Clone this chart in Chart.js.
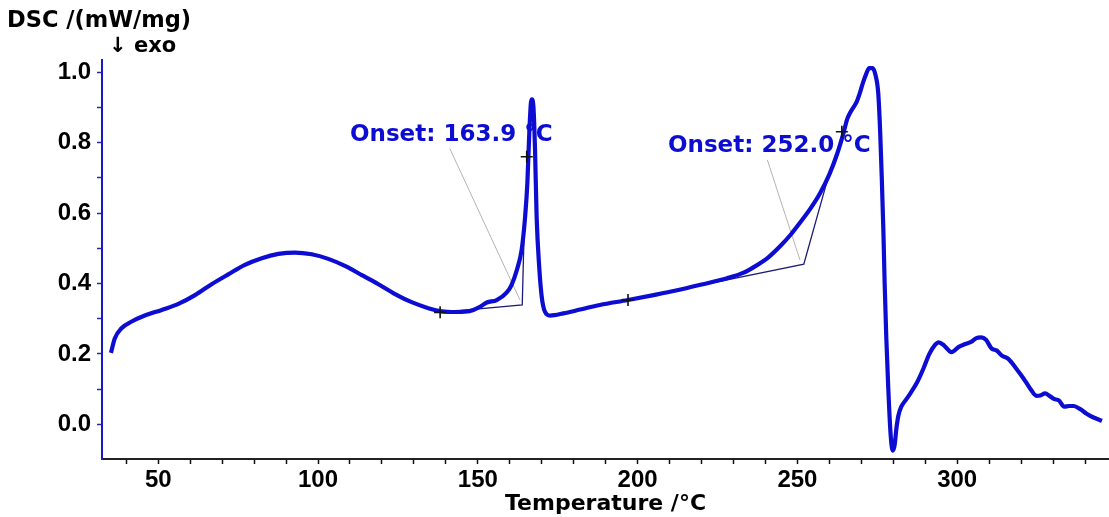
<!DOCTYPE html>
<html>
<head>
<meta charset="utf-8">
<script src="https://cdn.jsdelivr.net/npm/chart.js@4"></script>
<style>
    html, body { margin: 0; padding: 0; background: #fff; }
    #wrap { width: 1109px; height: 517px; }
</style>
</head>
<body>
<div id="wrap"><canvas id="dscChart" width="1109" height="517"></canvas></div>
<script>
// DSC trace, temperature in °C, signal in mW/mg
const temperature = [
    35.2, 36.4, 38.5, 41.7, 45.8, 51.1, 56.3, 61.5, 66.7, 71.9, 77.1, 82.4, 87.6, 92.8, 98.0,
    103.2, 108.4, 113.7, 118.9, 124.1, 129.3, 134.5, 138.7, 142.9, 146.0, 148.6, 150.7, 152.8,
    155.9, 159.0, 160.5, 162.2, 163.7, 164.8, 165.5, 166.1, 166.6, 166.9, 167.4, 167.9, 168.4,
    169.2, 170.0, 171.0, 172.6, 176.8, 182.0, 188.2, 197.0, 205.0, 212.0, 220.0, 228.0, 233.0,
    237.0, 241.0, 244.5, 248.0, 251.0, 254.0, 257.0, 260.0, 262.5, 264.5, 265.5, 266.5, 267.5,
    268.5, 269.5, 270.5, 271.5, 272.5, 273.5, 274.5, 275.3, 275.9, 276.4, 276.9, 277.3, 277.8,
    278.4, 279.1, 279.8, 280.4, 281.0, 281.6, 282.5, 284.0, 285.5, 287.5, 289.5, 291.3, 293.0,
    294.2, 296.0, 298.2, 300.5, 302.5, 304.5, 306.0, 307.5, 309.0, 310.8, 312.3, 314.0, 316.0,
    318.5, 320.7, 322.8, 324.8, 326.0, 327.5, 329.0, 330.3, 331.8, 333.5, 335.0, 336.5, 338.5,
    340.5, 342.5, 345.3
];
const dscSignal = [
    0.203, 0.244, 0.273, 0.292, 0.309, 0.325, 0.342, 0.367, 0.398, 0.426, 0.453, 0.472, 0.484, 0.488, 0.483,
    0.470, 0.450, 0.424, 0.398, 0.370, 0.347, 0.330, 0.321, 0.319, 0.320, 0.325, 0.334, 0.346,
    0.353, 0.374, 0.395, 0.438, 0.495, 0.590, 0.685, 0.827, 0.912, 0.923, 0.902, 0.780, 0.590,
    0.448, 0.362, 0.320, 0.309, 0.315, 0.326, 0.339, 0.353, 0.367, 0.380, 0.397, 0.415, 0.430,
    0.450, 0.475, 0.505, 0.540, 0.575, 0.612, 0.655, 0.710, 0.770, 0.830, 0.865, 0.885, 0.900,
    0.915, 0.940, 0.970, 0.995, 1.012, 1.012, 0.990, 0.940, 0.830, 0.700, 0.550, 0.400, 0.250,
    0.110, -0.020, -0.075, -0.060, -0.010, 0.025, 0.050, 0.070, 0.090, 0.120, 0.160, 0.200, 0.225,
    0.233, 0.223, 0.205, 0.220, 0.228, 0.235, 0.245, 0.247, 0.240, 0.215, 0.210, 0.195, 0.186,
    0.158, 0.131, 0.102, 0.081, 0.082, 0.088, 0.080, 0.072, 0.068, 0.050, 0.052, 0.052, 0.043,
    0.030, 0.020, 0.010
];

// onset evaluation: extrapolated onset temperatures and construction points
const onsetTemps = [163.9, 252.0];
const onsetBaseY = [0.339, 0.455];
const baseStartT = [138.2, 197.0];
const baseStartY = [0.318, 0.353];
const tangentEndT = [164.7, 260.5];
const tangentEndY = [0.62, 0.73];
const crossT = [138.2, 165.3, 197.0, 263.9];
const crossY = [0.318, 0.760, 0.353, 0.831];

// axis ticks
const xTicks = [40, 50, 60, 70, 80, 90, 100, 110, 120, 130, 140, 150, 160, 170, 180, 190, 200,
    210, 220, 230, 240, 250, 260, 270, 280, 290, 300, 310, 320, 330, 340];
const xLabelled = [50, 100, 150, 200, 250, 300];
const yTicks = [0.0, 0.1, 0.2, 0.3, 0.4, 0.5, 0.6, 0.7, 0.8, 0.9, 1.0];
const yLabelled = ['0.0', '0.2', '0.4', '0.6', '0.8', '1.0'];

const BLUE = '#0c0cd2';
const TICK_FONT = { family: '"Liberation Sans", Arial, sans-serif', size: 24, weight: 'bold' };
const TEXT_FONT = '"DejaVu Sans", Verdana, sans-serif';

function toPoints(xs, ys) {
    return xs.map(function (x, i) { return { x: x, y: ys[i] }; });
}

function constructionLine(i) {
    return [
        { x: baseStartT[i], y: baseStartY[i] },
        { x: onsetTemps[i], y: onsetBaseY[i] },
        { x: tangentEndT[i], y: tangentEndY[i] }
    ];
}

// onset labels with a thin leader down to the onset corner
const onsetLabels = [
    { t: 110.0, v: 0.822, fromT: 141.2, fromV: 0.784, toT: 163.2, toV: 0.353 },
    { t: 209.5, v: 0.790, fromT: 240.6, fromV: 0.751, toT: 250.8, toV: 0.467 }
];

const annotations = {
    id: 'annotations',
    beforeDatasetsDraw: function (chart) {
        const ctx = chart.ctx, xs = chart.scales.x, ys = chart.scales.y;
        ctx.save();
        ctx.strokeStyle = '#b4b4b4';
        ctx.lineWidth = 1;
        onsetLabels.forEach(function (l) {
            ctx.beginPath();
            ctx.moveTo(xs.getPixelForValue(l.fromT), ys.getPixelForValue(l.fromV));
            ctx.lineTo(xs.getPixelForValue(l.toT), ys.getPixelForValue(l.toV));
            ctx.stroke();
        });
        ctx.restore();
    },
    afterDatasetsDraw: function (chart) {
        const ctx = chart.ctx, xs = chart.scales.x, ys = chart.scales.y;
        ctx.save();
        ctx.fillStyle = BLUE;
        ctx.font = 'bold 23px ' + TEXT_FONT;
        ctx.textAlign = 'left';
        ctx.textBaseline = 'middle';
        onsetLabels.forEach(function (l, i) {
            ctx.fillText('Onset: ' + onsetTemps[i].toFixed(1) + ' °C',
                xs.getPixelForValue(l.t), ys.getPixelForValue(l.v));
        });

        // signal unit and direction in the top left corner
        ctx.fillStyle = '#000';
        ctx.font = 'bold 22.5px ' + TEXT_FONT;
        ctx.fillText('DSC /(mW/mg)', 7, 21);
        ctx.font = 'bold 21px ' + TEXT_FONT;
        ctx.fillText('↓ exo', 109, 47);
        ctx.restore();
    }
};

new Chart(document.getElementById('dscChart'), {
    type: 'line',
    data: {
        datasets: [{
            data: toPoints(crossT, crossY),
            showLine: false,
            pointStyle: 'cross',
            pointRadius: 6,
            pointBorderColor: '#111',
            pointBorderWidth: 1.6,
            order: 0
        }, {
            data: toPoints(temperature, dscSignal),
            borderColor: BLUE,
            borderWidth: 4.2,
            pointRadius: 0,
            cubicInterpolationMode: 'monotone',
            order: 1
        }, {
            data: constructionLine(0),
            borderColor: '#1c1c78',
            borderWidth: 1.3,
            pointRadius: 0,
            order: 2
        }, {
            data: constructionLine(1),
            borderColor: '#1c1c78',
            borderWidth: 1.3,
            pointRadius: 0,
            order: 2
        }]
    },
    options: {
        responsive: false,
        animation: false,
        layout: { autoPadding: false, padding: { top: 60, right: 0, left: 0, bottom: 0 } },
        plugins: {
            legend: { display: false },
            tooltip: { enabled: false }
        },
        scales: {
            x: {
                type: 'linear',
                min: 32.4,
                max: 347.5,
                afterFit: function (scale) {
                    scale.height = 58;
                    scale.paddingLeft = 0;
                    scale.paddingRight = 0;
                },
                afterBuildTicks: function (scale) {
                    scale.ticks = xTicks.map(function (v) { return { value: v }; });
                },
                ticks: {
                    autoSkip: false,
                    maxRotation: 0,
                    padding: 2,
                    color: '#000',
                    font: TICK_FONT,
                    callback: function (value) {
                        return xLabelled.indexOf(value) >= 0 ? String(value) : '';
                    }
                },
                grid: {
                    drawOnChartArea: false,
                    drawTicks: true,
                    tickLength: 5,
                    tickWidth: 1.5,
                    tickColor: '#111'
                },
                border: { color: '#222', width: 2 },
                title: {
                    display: true,
                    text: 'Temperature /°C',
                    color: '#000',
                    padding: 0,
                    font: { family: TEXT_FONT, size: 22, weight: 'bold' }
                }
            },
            y: {
                min: -0.0986,
                max: 1.035,
                afterFit: function (scale) {
                    scale.width = 102;
                    scale.paddingTop = 0;
                    scale.paddingBottom = 0;
                },
                afterBuildTicks: function (scale) {
                    scale.ticks = yTicks.map(function (v) { return { value: v }; });
                },
                ticks: {
                    autoSkip: false,
                    padding: 6,
                    color: '#000',
                    font: TICK_FONT,
                    callback: function (value) {
                        const s = value.toFixed(1);
                        return yLabelled.indexOf(s) >= 0 ? s : '';
                    }
                },
                grid: {
                    drawOnChartArea: false,
                    drawTicks: true,
                    tickLength: 5,
                    tickWidth: 1.5,
                    tickColor: '#2a2aa8'
                },
                border: { color: '#1818d0', width: 2 }
            }
        }
    },
    plugins: [annotations]
});
</script>
</body>
</html>
